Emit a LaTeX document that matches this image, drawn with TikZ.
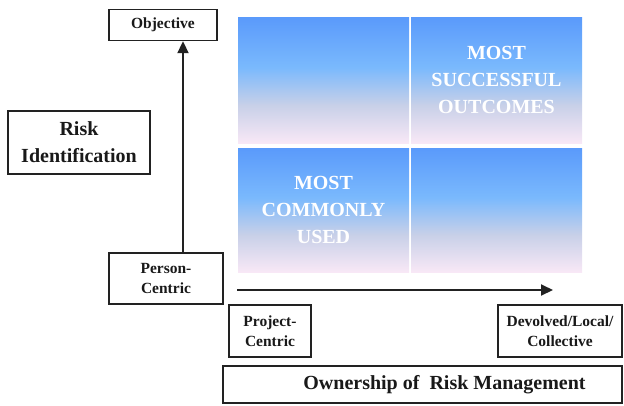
\documentclass[tikz,border=0pt]{standalone}
\usepackage{fontspec}
\setmainfont{Liberation Serif}
\usetikzlibrary{arrows.meta}
\definecolor{qtop}{HTML}{5A9AFB}
\definecolor{qmid}{HTML}{7AB9FD}
\definecolor{qgray}{HTML}{C8D0E8}
\definecolor{qbot}{HTML}{F8E8F6}
\definecolor{edge}{HTML}{222222}
\pgfdeclareverticalshading{quadshade}{100bp}{color(0bp)=(qbot); color(25bp)=(qbot); color(40bp)=(qgray); color(55bp)=(qmid); color(75bp)=(qtop); color(100bp)=(qtop)}
\tikzset{
  box/.style={draw=edge, line width=1.4pt, fill=white, align=center, inner sep=0pt, text=black!90},
  small/.style={font=\bfseries\fontsize{15.5}{20}\selectfont},
  big/.style={font=\bfseries\fontsize{20}{27}\selectfont},
  quad/.style={shading=quadshade, draw=none},
  qtext/.style={font=\bfseries\fontsize{20}{27}\selectfont, text=white, align=center},
  arr/.style={draw=edge, line width=2pt, -{Triangle[length=12pt,width=11pt]}}
}
\begin{document}
\begin{tikzpicture}[x=1pt,y=-1pt]
\useasboundingbox (0,0) rectangle (624,405);
% quadrants
\shade[quad] (238,17) rectangle (409,143);
\shade[quad] (411,17) rectangle (582,143);
\shade[quad] (238,148) rectangle (409,272);
\shade[quad] (411,148) rectangle (582,272);
\node[qtext] (q2) at (496.5,80) {MOST\\SUCCESSFUL\\OUTCOMES};
\node[qtext] (q3) at (323.5,210) {MOST\\COMMONLY\\USED};
% boxes
\node[box, small, minimum width=108, minimum height=31] (obj) at (163,25) {Objective};
\node[box, big, minimum width=142, minimum height=63] (risk) at (79,142.5) {Risk\\Identification};
\node[box, small, minimum width=114, minimum height=51] (person) at (166,278.5) {Person-\\Centric};
\node[box, small, minimum width=82, minimum height=52] (project) at (270,331) {Project-\\Centric};
\node[box, small, minimum width=124, minimum height=52] (devolved) at (560,331) {Devolved/Local/\\Collective};
\node[box, minimum width=399, minimum height=37] (own) at (422.5,384.5) {};
\node[big, text=black!90] (ownlabel) at (444.5,385) {Ownership of \ Risk Management};
% arrows
\coordinate (vx) at (183,0);
\draw[arr] (person.north -| vx) -- (obj.south -| vx);
\coordinate (hs) at (237,290);
\coordinate (he) at (553,290);
\draw[arr] (hs) -- (he);
\end{tikzpicture}
\end{document}
